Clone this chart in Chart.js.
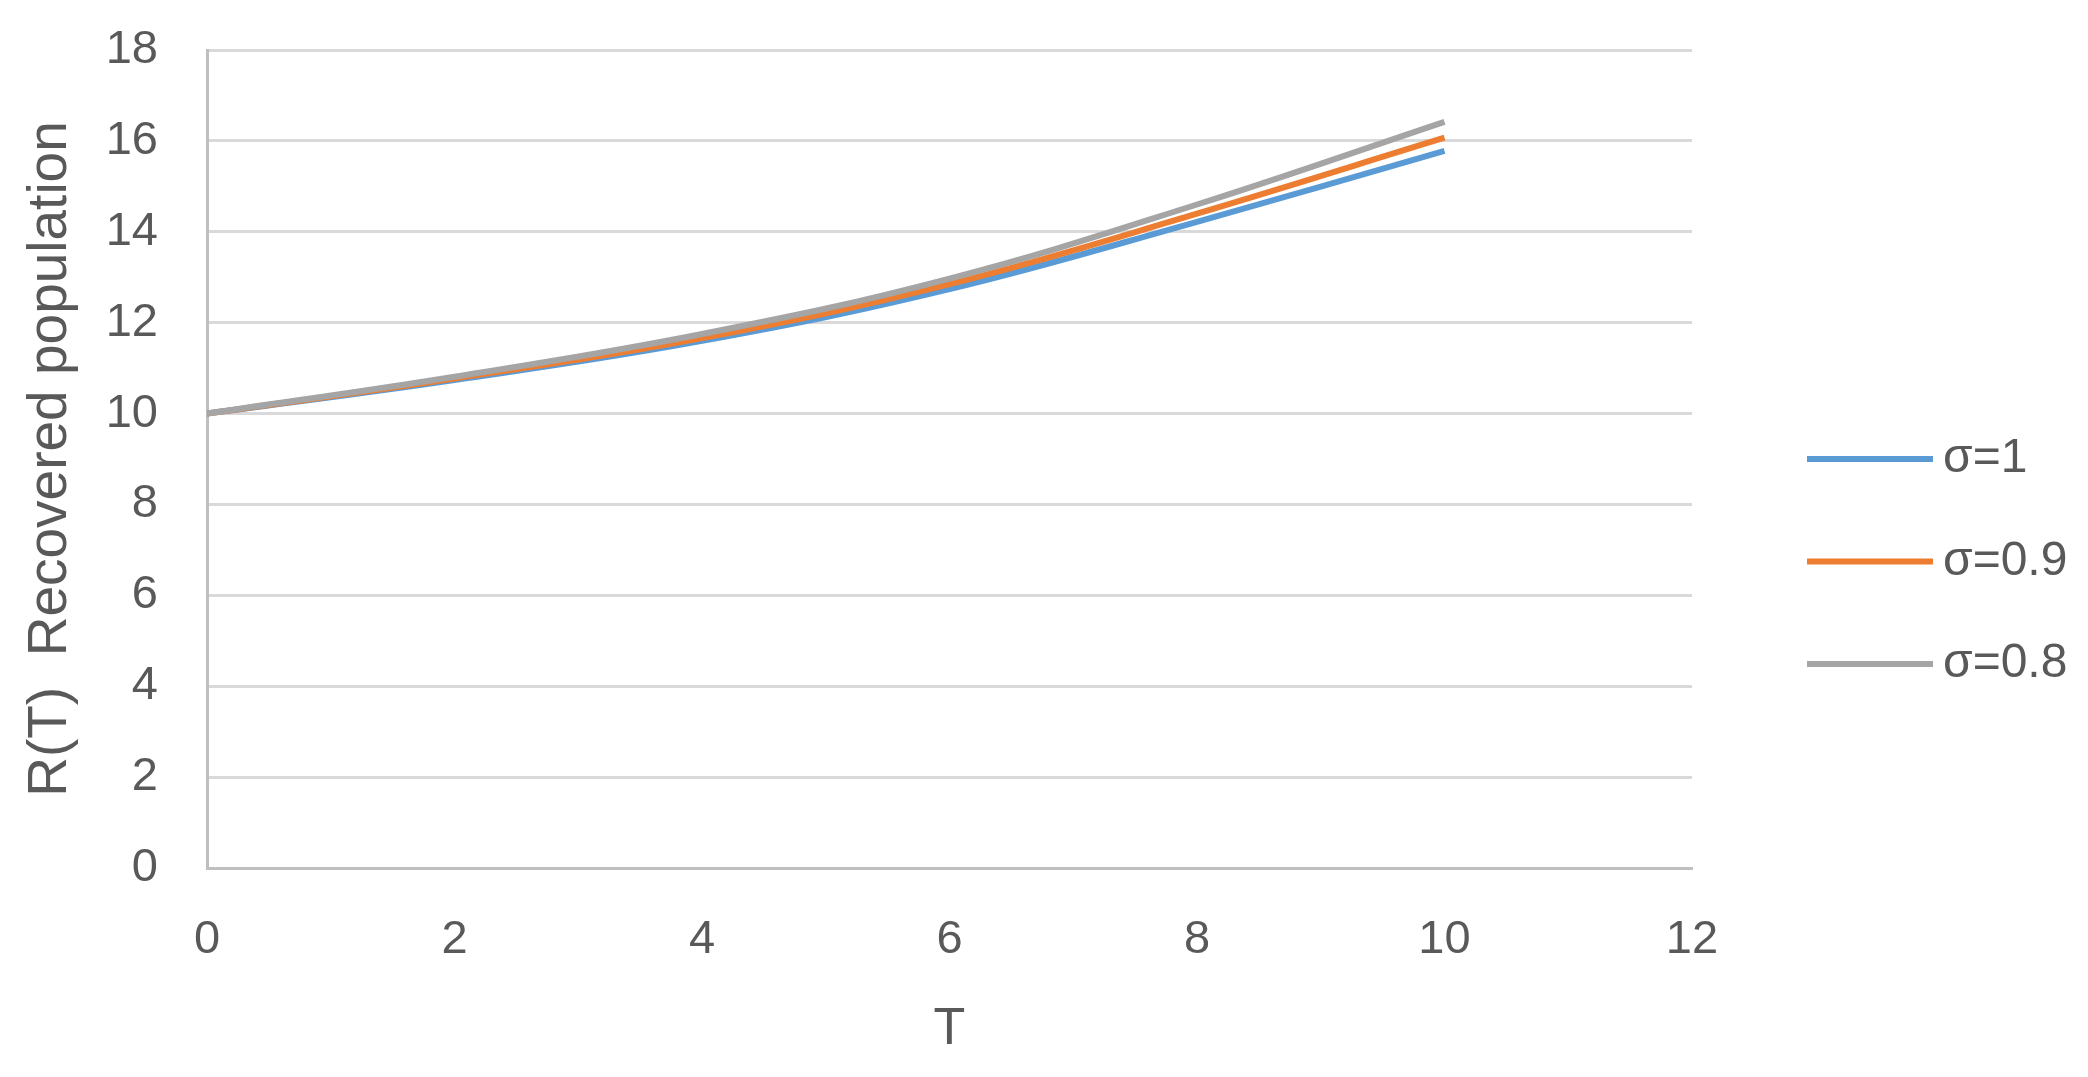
<!DOCTYPE html>
<html>
<head>
<meta charset="utf-8">
<script src="https://cdn.jsdelivr.net/npm/chart.js@4/dist/chart.umd.min.js"></script>
<style>
  html, body { margin: 0; padding: 0; background: #ffffff; }
  #wrap { width: 2088px; height: 1077px; position: relative; }
</style>
</head>
<body>
<div id="wrap"><canvas id="c" width="2088" height="1077"></canvas></div>
<script>
// ---- data ----
const T_VALUES = [0, 2, 4, 6, 8, 10];
const SERIES_LABELS = ['σ=1', 'σ=0.9', 'σ=0.8'];
const R_SIGMA_1   = [10, 10.74, 11.60, 12.74, 14.22, 15.78];
const R_SIGMA_09  = [10, 10.77, 11.66, 12.85, 14.40, 16.07];
const R_SIGMA_08  = [10, 10.81, 11.75, 12.97, 14.60, 16.42];
const X_TICKS = [0, 2, 4, 6, 8, 10, 12];
const Y_TICKS = [0, 2, 4, 6, 8, 10, 12, 14, 16, 18];
const X_TITLE = 'T';
const Y_TITLE = 'R(T)  Recovered population';

const COLORS = ['#5b9bd5', '#ed7d31', '#a5a5a5'];
const TEXT = '#595959';
const FONT = "'Liberation Sans', Arial, sans-serif";

function pts(arr) { return T_VALUES.map((t, i) => ({ x: t, y: arr[i] })); }
const seriesValues = [R_SIGMA_1, R_SIGMA_09, R_SIGMA_08];

const datasets = seriesValues.map((vals, i) => ({
  label: SERIES_LABELS[i],
  data: pts(vals),
  borderColor: COLORS[i],
  backgroundColor: COLORS[i],
  borderWidth: 6,
  pointRadius: 0,
  tension: 0.4,
  fill: false,
  order: 3 - i
}));

const legendPlugin = {
  id: 'sideLegend',
  afterDraw(chart) {
    const ctx = chart.ctx;
    ctx.save();
    chart.data.datasets.forEach((ds, i) => {
      const y = 459 + i * 102.5;
      ctx.strokeStyle = ds.borderColor;
      ctx.lineWidth = 6;
      ctx.lineCap = 'butt';
      ctx.beginPath();
      ctx.moveTo(1807, y);
      ctx.lineTo(1933, y);
      ctx.stroke();
      ctx.fillStyle = TEXT;
      ctx.font = '48px ' + FONT;
      ctx.textAlign = 'left';
      ctx.textBaseline = 'alphabetic';
      ctx.fillText(ds.label, 1943, y + 13);
    });
    ctx.restore();
  }
};

new Chart(document.getElementById('c'), {
  type: 'line',
  data: { datasets },
  plugins: [legendPlugin],
  options: {
    responsive: false,
    animation: false,
    events: [],
    layout: { padding: { top: 50, right: 396, bottom: 0, left: 0 } },
    plugins: { legend: { display: false }, tooltip: { enabled: false } },
    scales: {
      x: {
        type: 'linear',
        min: 0, max: 12,
        afterFit(scale) { scale.height = 209; scale.paddingRight = 0; },
        afterBuildTicks(scale) { scale.ticks = X_TICKS.map(v => ({ value: v })); },
        grid: { display: false, drawTicks: false },
        border: { display: true, color: '#bfbfbf', width: 3 },
        ticks: { color: TEXT, font: { family: FONT, size: 47 }, padding: 44, maxRotation: 0 },
        title: { display: true, text: X_TITLE, color: TEXT, font: { family: FONT, size: 52 }, padding: { top: 0, bottom: 16 } }
      },
      y: {
        type: 'linear',
        min: 0, max: 18,
        afterFit(scale) { scale.width = 207; scale.paddingTop = 0; scale.paddingBottom = 0; },
        afterBuildTicks(scale) { scale.ticks = Y_TICKS.map(v => ({ value: v })); },
        grid: { color: '#d9d9d9', lineWidth: 3, drawTicks: false },
        border: { display: true, color: '#bfbfbf', width: 3 },
        ticks: { color: TEXT, font: { family: FONT, size: 47 }, padding: 49 },
        title: { display: true, text: Y_TITLE, color: TEXT, font: { family: FONT, size: 55 }, padding: { top: 18, bottom: 0 } }
      }
    }
  }
});
</script>
</body>
</html>
